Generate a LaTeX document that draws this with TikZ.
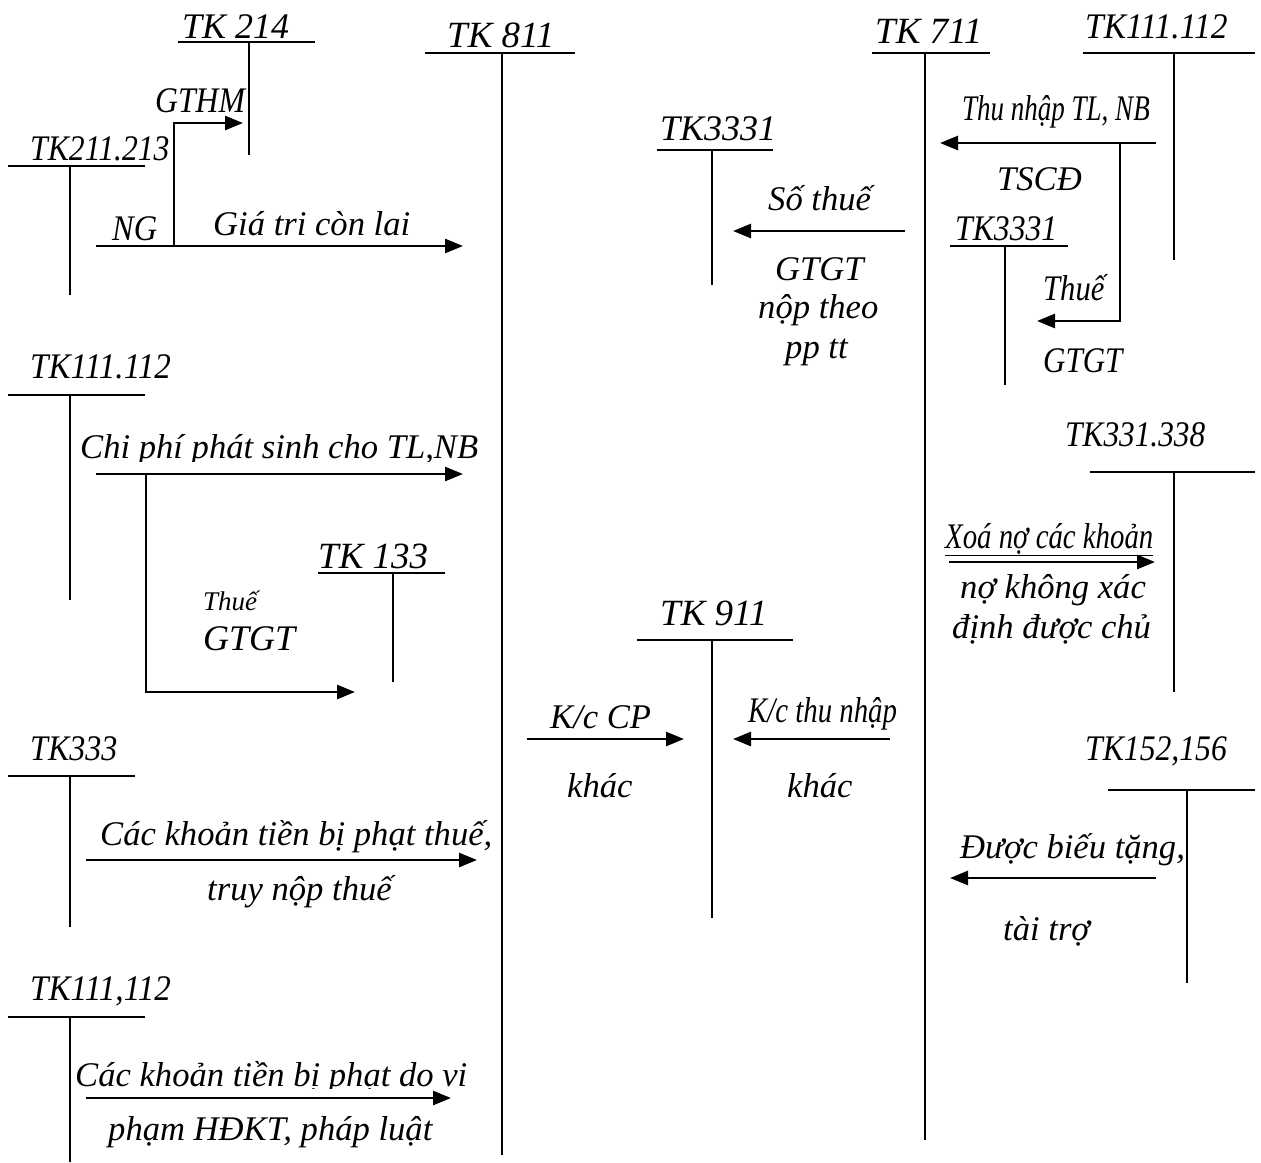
\documentclass[tikz,border=0pt]{standalone}
\usepackage{fontspec}
\usepackage{graphicx}
\setmainfont{Liberation Serif}
\usetikzlibrary{arrows.meta}
\newcommand\hs[2]{\scalebox{#1}[1]{#2}}
\begin{document}
\begin{tikzpicture}[x=1pt,y=-1pt,
  lbl/.style={anchor=base west,inner sep=0pt,font=\fontsize{34.6}{40}\selectfont\itshape},
  tk/.style={anchor=base west,inner sep=0pt,font=\fontsize{37}{40}\selectfont\itshape},
  tkc/.style={anchor=base west,inner sep=0pt,font=\fontsize{36}{40}\selectfont\itshape},
  slbl/.style={anchor=base west,inner sep=0pt,font=\fontsize{27}{30}\selectfont\itshape},
  acct/.style={line width=1.8pt},
  flow/.style={line width=2.6pt,-{Triangle[length=18pt,width=14pt]}}]
\useasboundingbox[fill=white] (0,0) rectangle (1261,1162);

% ---------- T accounts ----------
\draw[acct] (178,42) -- (315,42) (249,42) -- (249,155);      % TK 214
\draw[acct] (425,53) -- (575,53) (502,53) -- (502,1155);     % TK 811
\draw[acct] (8,166) -- (145,166) (70,166) -- (70,295);       % TK211.213
\draw[acct] (8,395) -- (145,395) (70,395) -- (70,600);       % TK111.112
\draw[acct] (318,573) -- (445,573) (393,573) -- (393,682);   % TK 133
\draw[acct] (8,776) -- (135,776) (70,776) -- (70,927);       % TK333
\draw[acct] (8,1017) -- (145,1017) (70,1017) -- (70,1162);   % TK111,112
\draw[acct] (657,150) -- (773,150) (712,150) -- (712,285);   % TK3331
\draw[acct] (637,640) -- (793,640) (712,640) -- (712,918);   % TK 911
\draw[acct] (872,53) -- (990,53) (925,53) -- (925,1140);     % TK 711
\draw[acct] (1083,53) -- (1255,53) (1174,53) -- (1174,260);  % TK111.112 right
\draw[acct] (950,246) -- (1068,246) (1005,246) -- (1005,385);% TK3331 right
\draw[acct] (1090,472) -- (1255,472) (1174,472) -- (1174,692);% TK331.338
\draw[acct] (1108,790) -- (1255,790) (1187,790) -- (1187,983);% TK152,156

% ---------- labels ----------
\node[tkc] (t214) at (182,38) {TK 214};
\node[tk] (t811) at (447,47) {TK 811};
\node[tkc] (gthm) at (155,112) {\hs{0.88}{GTHM}};
\node[tkc] (t211) at (30,160) {\hs{0.88}{TK211.213}};
\node[tkc] (ng) at (112,240) {\hs{0.9}{NG}};
\node[lbl] (gtcl) at (213,235) {Giá tri còn lai};
\node[tkc] (t111a) at (30,378) {\hs{0.92}{TK111.112}};
\begin{scope}
\clip (70,420) rectangle (500,461);
\node[lbl] (cpps) at (80,458) {Chi phí phát sinh cho TL,NB};
\end{scope}
\node[tk] (t133) at (318,568) {TK 133};
\node[slbl] (thue1) at (203,610) {Thuế};
\node[tkc] (gtgt1) at (203,650) {GTGT};
\node[tkc] (t333) at (30,760) {\hs{0.89}{TK333}};
\node[lbl] (ckt1) at (100,845) {Các khoản tiền bị phạt thuế,};
\node[lbl] (tnt) at (207,900) {truy nộp thuế};
\node[tkc] (t111b) at (30,1000) {\hs{0.92}{TK111,112}};
\begin{scope}
\clip (60,1050) rectangle (500,1088);
\node[lbl] (ckt2) at (75,1086) {Các khoản tiền bị phạt do vi};
\end{scope}
\node[lbl] (phdkt) at (108,1140) {phạm HĐKT, pháp luật};

\node[tkc] (t3331a) at (660,140) {TK3331};
\node[lbl] (sothue) at (768,210) {Số thuế};
\node[lbl] (gtgt2) at (775,280) {GTGT};
\node[lbl] (noptheo) at (758,318) {nộp theo};
\node[lbl] (pptt) at (785,358) {pp tt};
\node[tk] (t911) at (660,625) {TK 911};
\node[lbl] (kccp) at (550,728) {K/c CP};
\node[lbl] (khac1) at (567,797) {khác};
\node[tkc] (kctn) at (748,722) {\hs{0.8}{K/c thu nhập}};
\node[lbl] (khac2) at (787,797) {khác};

\node[tk] (t711) at (875,43) {TK 711};
\node[tkc] (t111c) at (1085,38) {\hs{0.93}{TK111.112}};
\node[tkc] (tntl) at (962,120) {\hs{0.75}{Thu nhập TL, NB}};
\node[lbl] (tscd) at (997,190) {TSCĐ};
\node[tkc] (t3331b) at (955,240) {\hs{0.88}{TK3331}};
\node[tkc] (thue2) at (1043,300) {\hs{0.85}{Thuế}};
\node[tkc] (gtgt3) at (1043,372) {\hs{0.86}{GTGT}};
\node[tkc] (t331) at (1065,446) {\hs{0.87}{TK331.338}};
\node[tkc] (xoano) at (945,548) {\hs{0.8}{\underline{Xoá nợ các khoản}}};
\node[lbl] (nkx) at (960,598) {nợ không xác};
\node[lbl] (ddc) at (952,638) {định được chủ};
\node[tkc] (t152) at (1085,760) {\hs{0.88}{TK152,156}};
\node[lbl] (dbt) at (960,858) {Được biếu tặng,};
\node[lbl] (ttro) at (1003,940) {tài trợ};

% ---------- connectors ----------
\coordinate (a1s) at (96,246);   \coordinate (a1e) at (463,246);
\coordinate (a1b) at (174,246);  \coordinate (a1t) at (243,123);
\draw[flow] (a1s) -- (a1e);
\draw[flow] (a1b) |- (a1t);

\coordinate (a2s) at (96,474);   \coordinate (a2e) at (463,474);
\coordinate (a2b) at (146,474);  \coordinate (a2t) at (355,692);
\draw[flow] (a2s) -- (a2e);
\draw[flow] (a2b) |- (a2t);

\coordinate (a3s) at (86,860);   \coordinate (a3e) at (477,860);
\draw[flow] (a3s) -- (a3e);
\coordinate (a4s) at (86,1098);  \coordinate (a4e) at (451,1098);
\draw[flow] (a4s) -- (a4e);

\coordinate (a5s) at (905,231);  \coordinate (a5e) at (733,231);
\draw[flow] (a5s) -- (a5e);
\coordinate (a6s) at (527,739);  \coordinate (a6e) at (684,739);
\draw[flow] (a6s) -- (a6e);
\coordinate (a7s) at (890,739);  \coordinate (a7e) at (733,739);
\draw[flow] (a7s) -- (a7e);

\coordinate (a8s) at (1156,143); \coordinate (a8e) at (940,143);
\coordinate (a8b) at (1120,143); \coordinate (a8t) at (1037,321);
\draw[flow] (a8s) -- (a8e);
\draw[flow] (a8b) |- (a8t);

\coordinate (a9s) at (949,562);  \coordinate (a9e) at (1155,562);
\draw[flow] (a9s) -- (a9e);
\coordinate (a10s) at (1156,878); \coordinate (a10e) at (950,878);
\draw[flow] (a10s) -- (a10e);
\end{tikzpicture}
\end{document}
